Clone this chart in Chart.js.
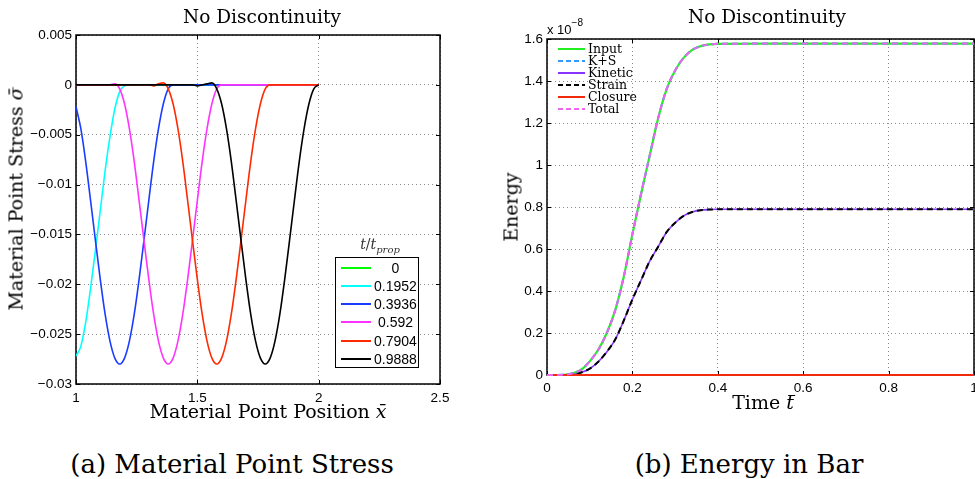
<!DOCTYPE html>
<html>
<head>
<meta charset="utf-8">
<title>No Discontinuity</title>
<script src="https://cdn.jsdelivr.net/npm/chart.js@4.4.1/dist/chart.umd.min.js"></script>
<style>
  html, body { margin: 0; padding: 0; background: #fff; }
  body { position: relative; width: 975px; height: 479px; overflow: hidden; font-family: 'DejaVu Serif', serif; color: #000; }
  canvas { position: absolute; top: 0; }
  .lbl { position: absolute; white-space: nowrap; line-height: 1; }
  .center { transform: translateX(-50%); }
  .vert { transform: translate(-50%, -50%) rotate(-90deg); }
  .title { font-size: 18.5px; top: 8px; }
  .axis { font-size: 19px; }
  .caption { font-size: 26px; top: 451px; }
  .bar { position: relative; }
  .bar::after { content: ''; position: absolute; left: 0.12em; right: -0.06em; top: 0.22em; border-top: 1px solid #000; }
  #stressLegend { position: absolute; left: 335px; top: 257px; width: 82px; height: 109px; border: 1px solid #000; background: #fff; font: 14px 'Liberation Sans', Arial, sans-serif; }
  .srow { position: absolute; left: 0; width: 82px; height: 18px; }
  .srow svg { position: absolute; left: 5px; top: 0; }
  .srow span { position: absolute; left: 38px; width: 43px; text-align: center; line-height: 18px; }
  #legendTitle { position: absolute; left: 380px; top: 236px; transform: translateX(-50%); font-size: 14px; color: #333; white-space: nowrap; }
  #legendTitle sub { font-size: 10px; }
  #energyLegend { position: absolute; left: 558px; top: 43px; width: 90px; height: 75px; font-size: 12.5px; }
  .erow { position: absolute; left: 0; height: 12px; }
  .erow svg { position: absolute; left: 0; top: 0; }
  .erow span { position: absolute; left: 30px; line-height: 12px; white-space: nowrap; }
  #scaleNote { position: absolute; left: 547px; top: 23px; font: 13px 'Liberation Sans', Arial, sans-serif; white-space: nowrap; line-height: 1; }
  #scaleNote span { font-size: 10px; position: relative; top: -8px; }
</style>
</head>
<body>
<canvas id="stressChart" width="470" height="420" style="left:0"></canvas>
<canvas id="energyChart" width="505" height="420" style="left:470px"></canvas>

<div class="lbl center title" style="left:262px">No Discontinuity</div>
<div class="lbl center title" style="left:767px">No Discontinuity</div>

<div class="lbl center axis" style="left:268px; top:402px">Material Point Position <i>x&#772;</i></div>
<div class="lbl vert axis" style="left:16px; top:199px">Material Point Stress <i>&sigma;&#772;</i></div>
<div class="lbl center axis" style="left:763px; top:393px">Time <i class="bar">t</i></div>
<div class="lbl vert axis" style="left:511px; top:207px">Energy</div>

<div id="scaleNote">x 10<span>&minus;8</span></div>

<div id="legendTitle"><i>t</i>/<i>t</i><sub><i>prop</i></sub></div>
<div id="stressLegend"></div>
<div id="energyLegend"></div>

<div class="lbl center caption" style="left:232px">(a) Material Point Stress</div>
<div class="lbl center caption" style="left:749px">(b) Energy in Bar</div>

<script>
// Left panel: stress along the bar at several times
const positionX = [
    1.00, 1.02, 1.04, 1.06, 1.08, 1.10, 1.12, 1.14, 1.16, 1.18,
    1.20, 1.22, 1.24, 1.26, 1.28, 1.30, 1.32, 1.34, 1.36, 1.38,
    1.40, 1.42, 1.44, 1.46, 1.48, 1.50, 1.52, 1.54, 1.56, 1.58,
    1.60, 1.62, 1.64, 1.66, 1.68, 1.70, 1.72, 1.74, 1.76, 1.78,
    1.80, 1.82, 1.84, 1.86, 1.88, 1.90, 1.92, 1.94, 1.96, 1.98,
    2.00
];
const timeLabels = ['0', '0.1952', '0.3936', '0.592', '0.7904', '0.9888'];

const stressT0 = [
    0, 0, 0, 0, 0, 0, 0, 0, 0, 0,
    0, 0, 0, 0, 0, 0, 0, 0, 0, 0,
    0, 0, 0, 0, 0, 0, 0, 0, 0, 0,
    0, 0, 0, 0, 0, 0, 0, 0, 0, 0,
    0, 0, 0, 0, 0, 0, 0, 0, 0, 0,
    0
];
const stressT1 = [
    -0.0272, -0.0262, -0.0238, -0.0204, -0.0166, -0.0126, -0.0086, -0.0052, -0.0024, -0.0007,
    -0.0001, 0, 0, 0, 0, 0, 0, 0, 0, 0,
    0, 0, 0, 0, 0, 0, 0, 0, 0, 0,
    0, 0, 0, 0, 0, 0, 0, 0, 0, 0,
    0, 0, 0, 0, 0, 0, 0, 0, 0, 0,
    0
];
const stressT2 = [
    -0.0022, -0.0044, -0.0077, -0.0116, -0.0156, -0.0195, -0.0230, -0.0257, -0.0274, -0.0280,
    -0.0274, -0.0257, -0.0230, -0.0195, -0.0156, -0.0116, -0.0077, -0.0044, -0.0019, -0.0004,
    0, 0, 0, 0, 0, 0, 0, 0, 0, 0,
    0, 0, 0, 0, 0, 0, 0, 0, 0, 0,
    0, 0, 0, 0, 0, 0, 0, 0, 0, 0,
    0
];
const stressT3 = [
    0, 0, 0, 0, 0, 0, 0, 0, 0.0001, -0.0004,
    -0.0019, -0.0044, -0.0077, -0.0116, -0.0156, -0.0195, -0.0230, -0.0257, -0.0274, -0.0280,
    -0.0274, -0.0257, -0.0230, -0.0195, -0.0156, -0.0116, -0.0077, -0.0044, -0.0019, -0.0004,
    0, 0, 0, 0, 0, 0, 0, 0, 0, 0,
    0, 0, 0, 0, 0, 0, 0, 0, 0, 0,
    0
];
const stressT4 = [
    0, 0, 0, 0, 0, 0, 0, 0, 0, 0,
    0, 0, 0, 0, 0, 0, -0.0001, 0.0001, 0.0002, -0.0004,
    -0.0019, -0.0044, -0.0077, -0.0116, -0.0156, -0.0195, -0.0230, -0.0257, -0.0274, -0.0280,
    -0.0274, -0.0257, -0.0230, -0.0195, -0.0156, -0.0116, -0.0077, -0.0044, -0.0019, -0.0004,
    0, 0, 0, 0, 0, 0, 0, 0, 0, 0,
    0
];
const stressT5 = [
    0, 0, 0, 0, 0, 0, 0, 0, 0, 0,
    0, 0, 0, 0, 0, 0, 0, 0, 0, 0,
    0, 0, 0, 0, 0, -0.0001, 0, 0.0001, 0.0002, -0.0004,
    -0.0019, -0.0044, -0.0077, -0.0116, -0.0156, -0.0195, -0.0230, -0.0257, -0.0274, -0.0280,
    -0.0274, -0.0257, -0.0230, -0.0195, -0.0156, -0.0116, -0.0077, -0.0044, -0.0019, -0.0004,
    0
];
const stressSeries = [stressT0, stressT1, stressT2, stressT3, stressT4, stressT5];
const stressColors = ['#00ff00', '#00ffff', '#1a3cff', '#ff33ff', '#ff2a00', '#000000'];

// Right panel: energies, in units of 1e-8
const timeT = [
    0, 0.02, 0.04, 0.06, 0.08, 0.10, 0.12, 0.14, 0.16, 0.18,
    0.20, 0.22, 0.24, 0.26, 0.28, 0.30, 0.32, 0.34, 0.36, 0.38,
    0.40, 0.50, 0.60, 0.70, 0.80, 0.90, 1.00
];
const energyInput = [
    0, 0, 0.001, 0.008, 0.025, 0.065, 0.12, 0.20, 0.31, 0.47,
    0.67, 0.86, 1.04, 1.22, 1.36, 1.45, 1.51, 1.548, 1.566, 1.574,
    1.577, 1.578, 1.578, 1.578, 1.578, 1.578, 1.578
];
const energyKS = [
    0, 0, 0.001, 0.008, 0.025, 0.065, 0.12, 0.20, 0.31, 0.47,
    0.67, 0.86, 1.04, 1.22, 1.36, 1.45, 1.51, 1.548, 1.566, 1.574,
    1.577, 1.578, 1.578, 1.578, 1.578, 1.578, 1.578
];
const energyKinetic = [
    0, 0, 0, 0.002, 0.012, 0.03, 0.063, 0.11, 0.17, 0.26,
    0.36, 0.45, 0.54, 0.61, 0.68, 0.725, 0.758, 0.776, 0.785, 0.788,
    0.789, 0.789, 0.789, 0.789, 0.789, 0.789, 0.789
];
const energyStrain = [
    0, 0, 0, 0.002, 0.012, 0.03, 0.063, 0.11, 0.17, 0.26,
    0.36, 0.45, 0.54, 0.61, 0.68, 0.725, 0.758, 0.776, 0.785, 0.788,
    0.789, 0.789, 0.789, 0.789, 0.789, 0.789, 0.789
];
const energyClosure = [
    0, 0, 0, 0, 0, 0, 0, 0, 0, 0,
    0, 0, 0, 0, 0, 0, 0, 0, 0, 0,
    0, 0, 0, 0, 0, 0, 0
];
const energyTotal = [
    0, 0, 0.001, 0.008, 0.025, 0.065, 0.12, 0.20, 0.31, 0.47,
    0.67, 0.86, 1.04, 1.22, 1.36, 1.45, 1.51, 1.548, 1.566, 1.574,
    1.577, 1.578, 1.578, 1.578, 1.578, 1.578, 1.578
];
const energyLabels = ['Input', 'K+S', 'Kinetic', 'Strain', 'Closure', 'Total'];
const energySeries = [energyInput, energyKS, energyKinetic, energyStrain, energyClosure, energyTotal];
const energyColors = ['#22ee22', '#3399ff', '#8833ff', '#000000', '#f02a0a', '#ee66ee'];
const energyDashes = [[], [6, 4], [], [6, 4], [], [6, 4]];
const energyWidths = [2.2, 2, 1.6, 2, 2, 2];

const tickFont = { family: "'Liberation Sans', Arial, sans-serif", size: 13.5 };
const gridColor = '#8c8c8c';

function tickText(value) {
    const v = Math.round(value * 10000) / 10000;
    if (v === 0) return '0';
    return (v < 0 ? '\u2212' : '') + String(Math.abs(v));
}

// Matlab style box with inward tick marks, drawn under the lines
const axesBox = {
    id: 'axesBox',
    beforeDatasetsDraw(chart) {
        const { ctx, chartArea: a, scales } = chart;
        ctx.save();
        ctx.strokeStyle = '#000';
        ctx.lineWidth = 1.5;
        ctx.setLineDash([]);
        ctx.strokeRect(a.left, a.top, a.right - a.left, a.bottom - a.top);
        ctx.lineWidth = 1;
        ctx.beginPath();
        scales.x.ticks.forEach(t => {
            const px = Math.round(scales.x.getPixelForValue(t.value)) + 0.5;
            ctx.moveTo(px, a.bottom); ctx.lineTo(px, a.bottom - 4);
            ctx.moveTo(px, a.top); ctx.lineTo(px, a.top + 4);
        });
        scales.y.ticks.forEach(t => {
            const py = Math.round(scales.y.getPixelForValue(t.value)) + 0.5;
            ctx.moveTo(a.left, py); ctx.lineTo(a.left + 4, py);
            ctx.moveTo(a.right, py); ctx.lineTo(a.right - 4, py);
        });
        ctx.stroke();
        ctx.restore();
    }
};

function axisOptions(min, max, step, fitSize, isX, pad) {
    return {
        type: 'linear',
        min: min,
        max: max,
        ticks: {
            stepSize: step,
            padding: pad,
            color: '#000',
            font: tickFont,
            autoSkip: false,
            maxRotation: 0,
            callback: v => tickText(v)
        },
        grid: { color: gridColor, drawTicks: false, lineWidth: 1 },
        border: { display: false, dash: [1, 3] },
        afterFit: s => {
            if (isX) {
                s.height = fitSize;
                s.paddingLeft = 0;
                s.paddingRight = 0;
            } else {
                s.width = fitSize;
                s.paddingTop = 0;
                s.paddingBottom = 0;
            }
        }
    };
}

const stressChart = new Chart(document.getElementById('stressChart'), {
    type: 'scatter',
    data: {
        datasets: stressSeries.map((values, i) => ({
            label: timeLabels[i],
            data: positionX.map((x, k) => ({ x: x, y: values[k] })),
            showLine: true,
            borderColor: stressColors[i],
            borderWidth: 1.6,
            pointRadius: 0,
            cubicInterpolationMode: 'monotone',
            order: stressSeries.length - i
        }))
    },
    options: {
        responsive: false,
        animation: false,
        layout: { padding: { left: 0, top: 35, right: 30, bottom: 0 } },
        plugins: { legend: { display: false }, tooltip: { enabled: false } },
        scales: {
            x: axisOptions(1, 2.5, 0.5, 36, true, 6),
            y: axisOptions(-0.03, 0.005, 0.005, 76, false, 4)
        }
    },
    plugins: [axesBox]
});

const energyChart = new Chart(document.getElementById('energyChart'), {
    type: 'scatter',
    data: {
        datasets: energySeries.map((values, i) => ({
            label: energyLabels[i],
            data: timeT.map((t, k) => ({ x: t, y: values[k] })),
            showLine: true,
            borderColor: energyColors[i],
            borderWidth: energyWidths[i],
            borderDash: energyDashes[i],
            pointRadius: 0,
            cubicInterpolationMode: 'monotone',
            clip: false,
            order: energySeries.length - i
        }))
    },
    options: {
        responsive: false,
        animation: false,
        layout: { padding: { left: 0, top: 39, right: 1, bottom: 0 } },
        plugins: { legend: { display: false }, tooltip: { enabled: false } },
        scales: {
            x: axisOptions(0, 1, 0.2, 45, true, 5),
            y: axisOptions(0, 1.6, 0.2, 77, false, 4)
        }
    },
    plugins: [axesBox]
});

// Legends
const stressLegendEl = document.getElementById('stressLegend');
timeLabels.forEach((label, i) => {
    const row = document.createElement('div');
    row.className = 'srow';
    row.style.top = (0.7 + i * 18.2) + 'px';
    row.innerHTML = `<svg width="30" height="18"><line x1="0" y1="9" x2="30" y2="9" stroke="${stressColors[i]}" stroke-width="2"/></svg><span>${label}</span>`;
    stressLegendEl.appendChild(row);
});

const energyLegendEl = document.getElementById('energyLegend');
energyLabels.forEach((label, i) => {
    const row = document.createElement('div');
    row.className = 'erow';
    row.style.top = (i * 11.95) + 'px';
    const dash = energyDashes[i].length ? `stroke-dasharray="5 3"` : '';
    row.innerHTML = `<svg width="27" height="12"><line x1="0" y1="6" x2="27" y2="6" stroke="${energyColors[i]}" stroke-width="2" ${dash}/></svg><span>${label}</span>`;
    energyLegendEl.appendChild(row);
});
</script>
</body>
</html>
